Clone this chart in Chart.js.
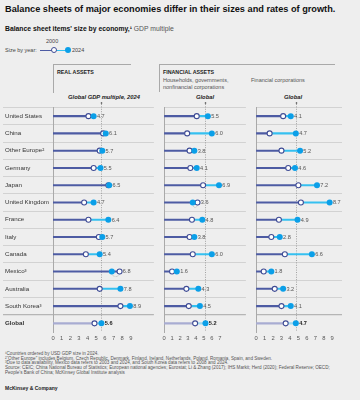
<!DOCTYPE html>
<html>
<head>
<meta charset="utf-8">
<script src="https://cdn.jsdelivr.net/npm/chart.js@4.4.1/dist/chart.umd.min.js"></script>
<style>
  html, body { margin: 0; padding: 0; background: #eeeeee; }
  #page { position: relative; width: 360px; height: 400px; overflow: hidden; background: #eeeeee;
          font-family: "Liberation Sans", Arial, sans-serif; color: #222; }
  .t { position: absolute; white-space: nowrap; line-height: 1; }
  canvas { position: absolute; }
  .rule { position: absolute; background: #a9a9a9; }
</style>
</head>
<body>
<div id="page">
  <div class="t" style="left:5px;top:4.5px;font-size:9.2px;font-weight:bold;color:#111;">Balance sheets of major economies differ in their sizes and rates of growth.</div>
  <div class="t" style="left:5px;top:25.5px;font-size:6.8px;color:#555;"><b style="color:#111;">Balance sheet items' size by economy,¹</b> GDP multiple</div>

  <!-- legend -->
  <div class="t" style="left:46px;top:38.5px;font-size:5.5px;color:#444;">2000</div>
  <div class="t" style="left:5px;top:47.5px;font-size:5.5px;color:#444;">Size by year:</div>
  <div style="position:absolute;left:40px;top:49.5px;width:14px;height:1.3px;background:#4d5ba3;"></div>
  <div style="position:absolute;left:54px;top:49.5px;width:13px;height:1.3px;background:#35c0f0;"></div>
  <div style="position:absolute;left:51px;top:47px;width:4px;height:4px;border:1.1px solid #3f4c95;border-radius:50%;background:#fff;"></div>
  <div style="position:absolute;left:64.5px;top:47px;width:6px;height:6px;border-radius:50%;background:#0b9fe8;"></div>
  <div class="t" style="left:72px;top:47.5px;font-size:5.5px;color:#444;">2024</div>

  <!-- panel headers -->
  <div class="rule" style="left:53px;top:64px;width:78px;height:1px;"></div>
  <div class="rule" style="left:53px;top:64px;width:1px;height:29px;"></div>
  <div class="t" style="left:57px;top:69.5px;font-size:5.3px;font-weight:bold;color:#222;">REAL ASSETS</div>
  <div class="rule" style="left:159px;top:64px;width:176px;height:1px;"></div>
  <div class="rule" style="left:159px;top:64px;width:1px;height:28px;"></div>
  <div class="t" style="left:163px;top:69.5px;font-size:5.3px;font-weight:bold;color:#222;">FINANCIAL ASSETS</div>
  <div class="t" style="left:163px;top:76.5px;font-size:5.5px;color:#555;line-height:7px;">Households, governments,<br>nonfinancial corporations</div>
  <div class="t" style="left:251px;top:76.5px;font-size:5.5px;color:#555;line-height:7px;">Financial corporations</div>
  <div class="t" style="left:104px;top:95px;font-size:5.8px;font-weight:bold;font-style:italic;transform:translateX(-50%);">Global GDP multiple, 2024</div>
  <div class="t" style="left:205px;top:95px;font-size:5.8px;font-weight:bold;font-style:italic;transform:translateX(-50%);">Global</div>
  <div class="t" style="left:293px;top:95px;font-size:5.8px;font-weight:bold;font-style:italic;transform:translateX(-50%);">Global</div>

  <canvas id="realChart" width="159" height="244" style="left:0;top:100px;"></canvas>
  <canvas id="hhChart" width="92" height="244" style="left:159px;top:100px;"></canvas>
  <canvas id="finChart" width="100" height="244" style="left:251px;top:100px;"></canvas>

  <div class="t" style="left:5px;top:352px;font-size:4.6px;color:#555;line-height:4.7px;">
    ¹Countries ordered by USD GDP size in 2024.<br>
    ²“Other Europe” includes Belgium, Czech Republic, Denmark, Finland, Ireland, Netherlands, Poland, Romania, Spain, and Sweden.<br>
    ³Due to data availability, Mexico data refers to 2003 and 2024, and South Korea data refers to 2008 and 2024.<br>
    Source: CEIC; China National Bureau of Statistics; European national agencies; Eurostat; Li &amp; Zhang (2017); IHS Markit; Herd (2020); Federal Reserve; OECD;<br>
    People's Bank of China; McKinsey Global Institute analysis
  </div>
  <div class="t" style="left:5px;top:386px;font-size:5px;font-weight:bold;color:#222;">McKinsey &amp; Company</div>
</div>

<script>
// Rows, top to bottom
var countries = ['United States', 'China', 'Other Europe²', 'Germany', 'Japan', 'United Kingdom',
    'France', 'Italy', 'Canada', 'Mexico³', 'Australia', 'South Korea³', 'Global'];

// Real assets, GDP multiple
var real2000 = [4.1, 5.8, 5.4, 4.7, 6.4, 3.6, 4.1, 5.3, 3.8, 7.7, 5.4, 7.8, 4.8];
var real2024 = [4.7, 6.1, 5.7, 5.5, 6.5, 4.7, 6.4, 5.7, 5.4, 6.8, 7.8, 8.9, 5.6];

// Financial assets: households, governments, nonfinancial corporations
var hh2000 = [4.1, 2.9, 3.2, 3.3, 4.9, 4.2, 3.5, 3.2, 3.6, 1.0, 2.8, 3.1, 3.9];
var hh2024 = [5.5, 6.0, 3.8, 4.1, 6.9, 3.6, 4.8, 3.8, 6.0, 1.6, 4.3, 4.5, 5.2];

// Financial assets: financial corporations
var fin2000 = [3.2, 1.6, 3.0, 3.8, 5.0, 5.3, 2.7, 1.8, 3.4, 0.9, 2.2, 3.0, 3.5];
var fin2024 = [4.1, 4.7, 5.2, 4.6, 7.2, 8.7, 4.9, 2.8, 6.6, 1.8, 3.2, 4.1, 4.7];

// Axis tick labels
var realTicks = [0, 1, 2, 3, 4, 5, 6, 7, 8, 9];
var hhTicks = [0, 1, 2, 3, 4, 5, 6, 7];
var finTicks = [0, 1, 2, 3, 4, 5, 6, 7, 8, 9];

var NAVY = '#4d5ba3', CYAN = '#35c0f0', DOT = '#0b9fe8', RING = '#3f4c95';
var NAVY_GLOBAL = '#a8acd2', CYAN_GLOBAL = '#9ed9f2';
var GLOBAL_ROW = countries.length - 1;

// dotted global reference line, decline arcs, value labels
var panelMarks = {
    id: 'panelMarks',
    beforeDatasetsDraw: function(chart, args, opts) {
        var ctx = chart.ctx;
        var xs = chart.scales.x, ys = chart.scales.y;
        var x = Math.round(xs.getPixelForValue(opts.end[GLOBAL_ROW])) + 0.5;
        ctx.save();
        ctx.strokeStyle = '#8f8f8f';
        ctx.lineWidth = 0.8;
        ctx.setLineDash([1, 1.4]);
        ctx.beginPath();
        ctx.moveTo(x, 4);
        ctx.lineTo(x, chart.chartArea.bottom);
        ctx.stroke();
        ctx.fillStyle = '#333';
        ctx.beginPath();
        ctx.arc(x, 3, 0.8, 0, Math.PI * 2);
        ctx.fill();

        // small dashed arc under rows that shrank
        ctx.strokeStyle = '#9a9a9a';
        ctx.lineWidth = 0.6;
        ctx.setLineDash([0.8, 0.8]);
        opts.end.forEach(function(v, i) {
            if (v >= opts.start[i]) return;
            var x0 = xs.getPixelForValue(opts.start[i]);
            var x1 = xs.getPixelForValue(v);
            var y = ys.getPixelForValue(i) + 3;
            ctx.beginPath();
            ctx.moveTo(x0, y);
            ctx.quadraticCurveTo((x0 + x1) / 2, y + 4, x1, y);
            ctx.stroke();
        });
        ctx.restore();
    },
    afterDatasetsDraw: function(chart, args, opts) {
        var ctx = chart.ctx;
        var xs = chart.scales.x, ys = chart.scales.y;
        ctx.save();
        ctx.textBaseline = 'middle';
        ctx.textAlign = 'left';
        opts.end.forEach(function(v, i) {
            var right = Math.max(v, opts.start[i]);
            var isGlobal = i === GLOBAL_ROW;
            ctx.font = (isGlobal ? 'bold ' : '') + '5.6px "Liberation Sans", Arial, sans-serif';
            ctx.fillStyle = isGlobal ? '#222' : '#555';
            ctx.fillText(v.toFixed(1), xs.getPixelForValue(right) + 3.3, ys.getPixelForValue(i) + 0.3);
        });
        ctx.restore();
    }
};

function makePanel(id, start, end, ticks, max, withLabels, padRight) {
    var lo = start.map(function(v, i) { return Math.min(v, end[i]); });
    var hi = start.map(function(v, i) { return Math.max(v, end[i]); });

    return new Chart(document.getElementById(id), {
        type: 'bar',
        data: {
            labels: countries,
            datasets: [
                {
                    type: 'line',
                    data: end,
                    showLine: false,
                    pointStyle: 'circle',
                    pointRadius: 3,
                    pointBackgroundColor: DOT,
                    pointBorderColor: DOT,
                    pointBorderWidth: 0,
                    order: 0
                },
                {
                    type: 'line',
                    data: start,
                    showLine: false,
                    pointStyle: 'circle',
                    pointRadius: 2.5,
                    pointBackgroundColor: '#ffffff',
                    pointBorderColor: RING,
                    pointBorderWidth: 1.1,
                    order: 1
                },
                {
                    data: lo.map(function(v, i) { return [v, hi[i]]; }),
                    backgroundColor: function(c) {
                        var i = c.dataIndex;
                        if (end[i] < start[i]) return i === GLOBAL_ROW ? NAVY_GLOBAL : NAVY;
                        return i === GLOBAL_ROW ? CYAN_GLOBAL : CYAN;
                    },
                    barThickness: 1.4,
                    grouped: false,
                    order: 2
                },
                {
                    data: lo.map(function(v) { return [0, v]; }),
                    backgroundColor: function(c) {
                        return c.dataIndex === GLOBAL_ROW ? NAVY_GLOBAL : NAVY;
                    },
                    barThickness: 1.4,
                    grouped: false,
                    order: 3
                }
            ]
        },
        options: {
            indexAxis: 'y',
            responsive: false,
            animation: false,
            devicePixelRatio: 1,
            layout: {
                padding: { top: 7.5, left: withLabels ? 5 : 0, right: padRight, bottom: 0 }
            },
            scales: {
                x: {
                    type: 'linear',
                    min: 0,
                    max: max,
                    grid: { display: false, drawTicks: false },
                    border: { display: false },
                    ticks: {
                        color: '#555',
                        font: { size: 5.8, family: '"Liberation Sans", Arial, sans-serif' },
                        padding: 3,
                        maxRotation: 0,
                        autoSkip: false
                    },
                    afterBuildTicks: function(s) {
                        s.ticks = ticks.map(function(v) { return { value: v }; });
                    },
                    afterFit: function(s) { s.height = 12; }
                },
                y: {
                    type: 'category',
                    offset: true,
                    grid: {
                        offset: true,
                        drawTicks: withLabels,
                        tickLength: 50,
                        lineWidth: function(c) { return c.index === GLOBAL_ROW ? 1.3 : 1; },
                        color: function(c) {
                            if (c.type !== 'tick') return 'rgba(0,0,0,0)';
                            return c.index === GLOBAL_ROW ? '#b5b5b5' : '#d2d2d2';
                        }
                    },
                    border: { display: true, color: '#a9a9a9', width: 1 },
                    ticks: {
                        display: withLabels,
                        crossAlign: 'far',
                        color: '#333',
                        font: function(c) {
                            return {
                                size: 6.2,
                                family: '"Liberation Sans", Arial, sans-serif',
                                weight: c.index === GLOBAL_ROW ? 'bold' : 'normal'
                            };
                        }
                    },
                    afterFit: function(s) { s.width = withLabels ? 48 : 0; }
                }
            },
            plugins: {
                legend: { display: false },
                tooltip: { enabled: false },
                panelMarks: { start: start, end: end }
            }
        },
        plugins: [panelMarks]
    });
}

makePanel('realChart', real2000, real2024, realTicks, 11.67, true, 0);
makePanel('hhChart', hh2000, hh2024, hhTicks, 10.28, false, 0);
makePanel('finChart', fin2000, fin2024, finTicks, 10.16, false, 9);
</script>
</body>
</html>
